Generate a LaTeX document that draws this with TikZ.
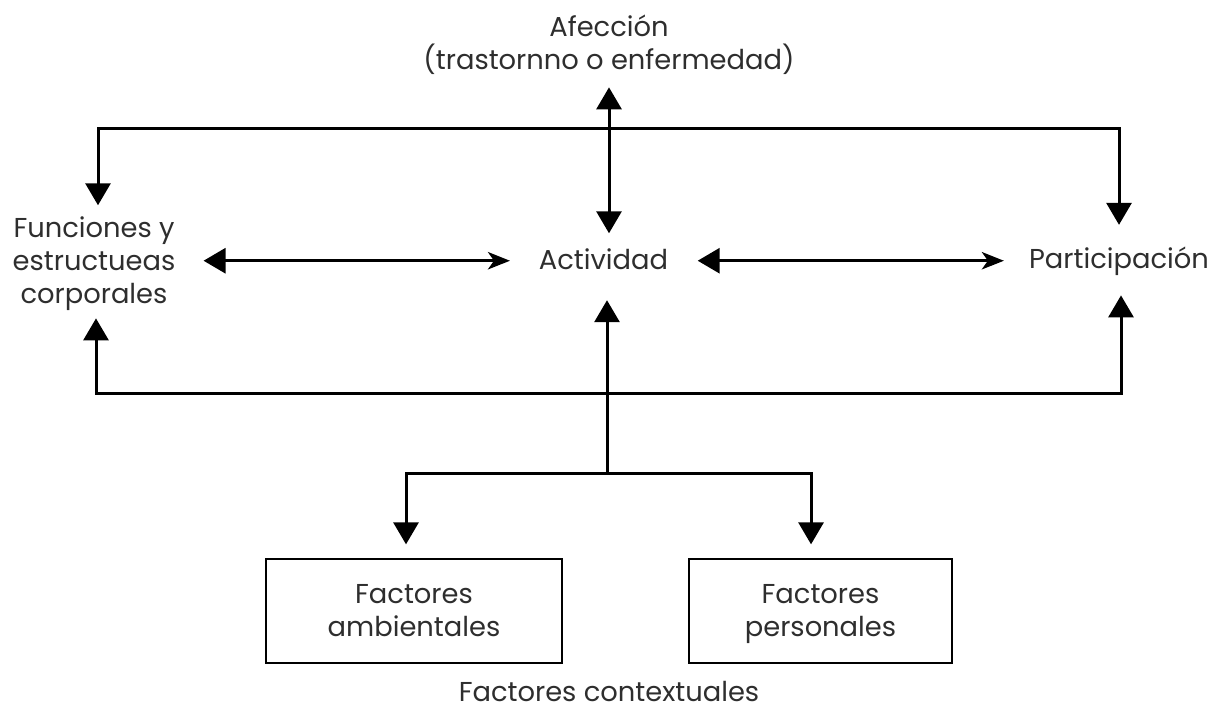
\documentclass[tikz,border=0pt]{standalone}
\usepackage{fontspec}
\setmainfont{Poppins}
\usetikzlibrary{arrows.meta}
\begin{document}
\begin{tikzpicture}[x=0.75pt,y=-0.75pt,
  lbl/.style={inner sep=0pt, align=center, text=black!82, font=\fontsize{20.5pt}{24.75pt}\selectfont},
  boxnode/.style={lbl, draw=black, line width=1pt, minimum height=78pt},
  conn/.style={line width=2.25pt, black},
  tT/.tip={Triangle[length=16.5pt,width=18.75pt]},
  tS/.tip={Stealth[length=16.5pt,width=13pt,inset=4.5pt]}
]
\useasboundingbox (0,0) rectangle (1213,708);

\node[lbl, anchor=base] (afec) at (609,69) {Afección\\(trastornno o enfermedad)};
\node[lbl, anchor=base] (func) at (94,303) {Funciones y\\estructueas\\corporales};
\node[lbl, anchor=base] (act) at (603.5,269) {Actividad};
\node[lbl, anchor=base] (part) at (1119,268) {Participación};
\node[boxnode, minimum width=222pt] (fa) at (414,611) {\rule{0pt}{18.8pt}Factores\\ambientales\vphantom{p}};
\node[boxnode, minimum width=197.25pt] (fp) at (820.5,611) {\rule{0pt}{18.8pt}Factores\\personales};
\node[lbl, anchor=base] (ctx) at (609,701) {Factores contextuales};

\coordinate (tb) at (609,128);
\coordinate (bb) at (608,393);
\coordinate (J) at (607,473);

% top bracket
\draw[conn, tT-tT, shorten <=8pt, shorten >=16pt]
  ([xshift=3pt]func.north) |- (tb) -| (part.north);
% bottom bracket
\draw[conn, tT-tT, shorten <=6pt, shorten >=15pt]
  ([xshift=1.5pt]func.south) |- (bb) -| ([xshift=1.5pt]part.south);
% affection <-> activity
\draw[conn, tT-tT, shorten <=9.75pt, shorten >=11pt]
  (afec.south) -- (afec.south |- act.north);
% functions <-> activity
\draw[conn, tT-tS, shorten <=21pt, shorten >=21.5pt]
  ([yshift=-1.5pt]act.west -| func.east) -- ([yshift=-1.5pt]act.west);
% activity <-> participation
\draw[conn, tT-tS, shorten <=22pt, shorten >=18.75pt]
  ([yshift=-1.5pt]act.east) -- ([yshift=-1.5pt]act.east -| part.west);
% contextual factors
\draw[conn, -tT, shorten >=23pt] (J) -- (J |- act.south);
\draw[conn, -tT, shorten >=10.5pt] (J) -| ([xshift=-6pt]fa.north);
\draw[conn, -tT, shorten >=10.5pt] (J) -| ([xshift=-7.1pt]fp.north);
\end{tikzpicture}
\end{document}
